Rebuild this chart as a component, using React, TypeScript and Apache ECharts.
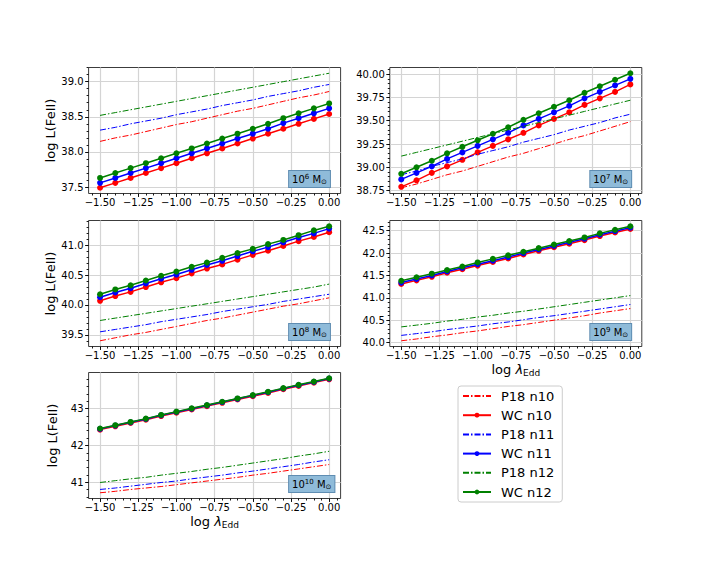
import React, { useEffect, useRef } from 'react';
import * as echarts from 'echarts';

const FONT = 'DejaVu Sans';

// log lambda_Edd sample points
const logLambda = [-1.5, -1.4, -1.3, -1.2, -1.1, -1.0, -0.9, -0.8, -0.7, -0.6, -0.5, -0.4, -0.3, -0.2, -0.1, 0.0];

// Tick labels
const xTicks = [-1.5, -1.25, -1.0, -0.75, -0.5, -0.25, 0.0];
const yTicksM6 = [37.5, 38.0, 38.5, 39.0];
const yTicksM7 = [38.75, 39.0, 39.25, 39.5, 39.75, 40.0];
const yTicksM8 = [39.5, 40.0, 40.5, 41.0];
const yTicksM9 = [40.0, 40.5, 41.0, 41.5, 42.0, 42.5];
const yTicksM10 = [41, 42, 43];

const seriesNames = ['P18 n10', 'WC n10', 'P18 n11', 'WC n11', 'P18 n12', 'WC n12'];
const seriesColors = ['#ff0000', '#ff0000', '#0000ff', '#0000ff', '#008000', '#008000'];
const massExponents = ['6', '7', '8', '9', '10'];

// 10^6 Msun
const m6P18n10 = [38.15, 38.20, 38.24, 38.29, 38.34, 38.39, 38.43, 38.48, 38.53, 38.58, 38.62, 38.67, 38.72, 38.77, 38.81, 38.86];
const m6WCn10 = [37.49, 37.56, 37.63, 37.70, 37.77, 37.84, 37.91, 37.98, 38.05, 38.12, 38.19, 38.26, 38.33, 38.40, 38.47, 38.54];
const m6P18n11 = [38.31, 38.35, 38.40, 38.44, 38.48, 38.53, 38.57, 38.61, 38.66, 38.70, 38.74, 38.79, 38.83, 38.87, 38.92, 38.96];
const m6WCn11 = [37.56, 37.63, 37.70, 37.77, 37.84, 37.91, 37.98, 38.05, 38.12, 38.19, 38.26, 38.33, 38.41, 38.48, 38.55, 38.62];
const m6P18n12 = [38.52, 38.56, 38.60, 38.64, 38.68, 38.72, 38.76, 38.80, 38.84, 38.88, 38.92, 38.96, 39.00, 39.04, 39.08, 39.12];
const m6WCn12 = [37.63, 37.70, 37.77, 37.84, 37.91, 37.98, 38.05, 38.12, 38.19, 38.26, 38.33, 38.40, 38.48, 38.55, 38.62, 38.69];

// 10^7 Msun
const m7P18n10 = [38.78, 38.82, 38.87, 38.92, 38.96, 39.01, 39.06, 39.11, 39.15, 39.20, 39.25, 39.30, 39.34, 39.39, 39.44, 39.49];
const m7WCn10 = [38.79, 38.86, 38.94, 39.01, 39.08, 39.16, 39.23, 39.30, 39.37, 39.45, 39.52, 39.59, 39.67, 39.74, 39.81, 39.89];
const m7P18n11 = [38.92, 38.96, 39.01, 39.05, 39.09, 39.14, 39.18, 39.22, 39.27, 39.31, 39.35, 39.40, 39.44, 39.48, 39.53, 39.57];
const m7WCn11 = [38.87, 38.94, 39.01, 39.09, 39.16, 39.23, 39.30, 39.37, 39.45, 39.52, 39.59, 39.66, 39.74, 39.81, 39.88, 39.95];
const m7P18n12 = [39.12, 39.16, 39.20, 39.24, 39.28, 39.32, 39.36, 39.40, 39.44, 39.48, 39.52, 39.56, 39.60, 39.64, 39.68, 39.72];
const m7WCn12 = [38.93, 39.00, 39.07, 39.15, 39.22, 39.29, 39.36, 39.43, 39.51, 39.58, 39.65, 39.72, 39.80, 39.87, 39.94, 40.01];

// 10^8 Msun
const m8P18n10 = [39.40, 39.45, 39.50, 39.54, 39.59, 39.64, 39.69, 39.74, 39.78, 39.83, 39.88, 39.93, 39.98, 40.02, 40.07, 40.12];
const m8WCn10 = [40.07, 40.15, 40.22, 40.30, 40.38, 40.45, 40.53, 40.61, 40.68, 40.76, 40.84, 40.91, 40.99, 41.07, 41.14, 41.22];
const m8P18n11 = [39.55, 39.59, 39.63, 39.67, 39.72, 39.76, 39.80, 39.84, 39.89, 39.93, 39.97, 40.01, 40.06, 40.10, 40.14, 40.18];
const m8WCn11 = [40.13, 40.21, 40.28, 40.36, 40.44, 40.51, 40.59, 40.67, 40.74, 40.82, 40.90, 40.97, 41.05, 41.13, 41.20, 41.28];
const m8P18n12 = [39.74, 39.78, 39.82, 39.86, 39.90, 39.94, 39.98, 40.02, 40.06, 40.10, 40.14, 40.18, 40.22, 40.26, 40.30, 40.35];
const m8WCn12 = [40.18, 40.26, 40.33, 40.41, 40.49, 40.56, 40.64, 40.71, 40.79, 40.87, 40.94, 41.02, 41.09, 41.17, 41.25, 41.32];

// 10^9 Msun
const m9P18n10 = [40.04, 40.08, 40.13, 40.17, 40.22, 40.26, 40.31, 40.36, 40.40, 40.45, 40.50, 40.55, 40.60, 40.66, 40.71, 40.76];
const m9WCn10 = [41.31, 41.39, 41.47, 41.56, 41.64, 41.72, 41.80, 41.88, 41.97, 42.05, 42.13, 42.21, 42.29, 42.38, 42.46, 42.54];
const m9P18n11 = [40.16, 40.20, 40.24, 40.29, 40.33, 40.37, 40.42, 40.46, 40.51, 40.56, 40.60, 40.65, 40.70, 40.75, 40.80, 40.85];
const m9WCn11 = [41.34, 41.42, 41.50, 41.59, 41.67, 41.75, 41.83, 41.91, 42.00, 42.08, 42.16, 42.24, 42.32, 42.41, 42.49, 42.57];
const m9P18n12 = [40.35, 40.39, 40.43, 40.48, 40.52, 40.57, 40.61, 40.66, 40.70, 40.75, 40.80, 40.85, 40.90, 40.95, 41.00, 41.05];
const m9WCn12 = [41.38, 41.46, 41.54, 41.62, 41.70, 41.79, 41.87, 41.95, 42.03, 42.11, 42.19, 42.27, 42.35, 42.44, 42.52, 42.60];

// 10^10 Msun
const m10P18n10 = [40.71, 40.75, 40.80, 40.84, 40.88, 40.93, 40.98, 41.03, 41.08, 41.13, 41.19, 41.24, 41.30, 41.36, 41.42, 41.48];
const m10WCn10 = [42.43, 42.52, 42.61, 42.70, 42.80, 42.89, 42.98, 43.07, 43.16, 43.25, 43.34, 43.43, 43.53, 43.62, 43.71, 43.80];
const m10P18n11 = [40.80, 40.84, 40.89, 40.94, 40.99, 41.03, 41.09, 41.14, 41.19, 41.25, 41.30, 41.36, 41.42, 41.48, 41.55, 41.61];
const m10WCn11 = [42.45, 42.54, 42.63, 42.72, 42.82, 42.91, 43.00, 43.09, 43.18, 43.27, 43.36, 43.45, 43.55, 43.64, 43.73, 43.82];
const m10P18n12 = [40.99, 41.04, 41.09, 41.13, 41.19, 41.24, 41.29, 41.35, 41.40, 41.46, 41.52, 41.58, 41.64, 41.71, 41.77, 41.84];
const m10WCn12 = [42.46, 42.55, 42.64, 42.73, 42.83, 42.92, 43.01, 43.10, 43.19, 43.28, 43.37, 43.46, 43.56, 43.65, 43.74, 43.83];

const panelSeries = [
  [m6P18n10, m6WCn10, m6P18n11, m6WCn11, m6P18n12, m6WCn12],
  [m7P18n10, m7WCn10, m7P18n11, m7WCn11, m7P18n12, m7WCn12],
  [m8P18n10, m8WCn10, m8P18n11, m8WCn11, m8P18n12, m8WCn12],
  [m9P18n10, m9WCn10, m9P18n11, m9WCn11, m9P18n12, m9WCn12],
  [m10P18n10, m10WCn10, m10P18n11, m10WCn11, m10P18n12, m10WCn12],
];
const panelYTicks = [yTicksM6, yTicksM7, yTicksM8, yTicksM9, yTicksM10];
const panelYDecimals = [1, 2, 1, 1, 0];
const panelYMinorStep = [0.1, 0.05, 0.1, 0.1, 0.2];

// layout
const COL_LEFT = [88.6, 389.8];
const ROW_TOP = [67.5, 220.5, 372.5];
const GW = 252;
const GH = 126;
const panelPos = [[0, 0], [0, 1], [1, 0], [1, 1], [2, 0]];

const XMIN = -1.575;
const XMAX = 0.075;

function minorTicks(min: number, max: number, step: number) {
  const out: number[] = [];
  const a = Math.ceil(min / step - 1e-9);
  const b = Math.floor(max / step + 1e-9);
  for (let k = a; k <= b; k++) out.push(Math.round(k * step * 1e6) / 1e6);
  return out;
}

function fmtNum(v: number, d: number) {
  const s = Math.abs(v).toFixed(d);
  return (v < -1e-9 ? '\u2212' : '') + s;
}

function buildOption() {
  const grids: any[] = [];
  const xAxes: any[] = [];
  const yAxes: any[] = [];
  const series: any[] = [];
  const graphics: any[] = [];

  panelSeries.forEach((arrs, i) => {
    const [r, c] = panelPos[i];
    const left = COL_LEFT[c];
    const top = ROW_TOP[r];
    grids.push({
      left, top, width: GW, height: GH,
      show: true, borderColor: '#262626', borderWidth: 0.9,
      backgroundColor: 'rgba(0,0,0,0)', containLabel: false, outerBoundsMode: 'none',
    });

    // y range from data with 5% margins
    let lo = Infinity, hi = -Infinity;
    arrs.forEach(a => a.forEach(v => { lo = Math.min(lo, v); hi = Math.max(hi, v); }));
    const pad = (hi - lo) * 0.05;
    const ymin = lo - pad;
    const ymax = hi + pad;

    const showXName = i === 3 || i === 4;
    const showYName = c === 0;
    const tickStyle = { color: '#000', width: 0.9 };

    xAxes.push({
      type: 'value', gridIndex: i, min: XMIN, max: XMAX, position: 'bottom',
      axisLine: { show: false, onZero: false },
      axisTick: { show: true, customValues: xTicks, length: 3.5, lineStyle: tickStyle },
      axisLabel: {
        customValues: xTicks, formatter: (v: number) => fmtNum(v, 2),
        fontSize: 10, color: '#000', fontFamily: FONT, margin: 4,
      },
      splitLine: { show: true, lineStyle: { color: '#d4d4d4', width: 1.2 } },
      name: showXName ? '{a|log }{i|\u03bb}{s|Edd}' : '',
      nameLocation: 'middle', nameGap: 13,
      nameTextStyle: {
        color: '#000', fontFamily: FONT, lineHeight: 16,
        rich: {
          a: { fontSize: 13, fontFamily: FONT, color: '#000', lineHeight: 16 },
          i: { fontSize: 13, fontFamily: FONT, fontStyle: 'italic', color: '#000', lineHeight: 16 },
          s: { fontSize: 9, fontFamily: FONT, color: '#000', verticalAlign: 'bottom' },
        },
      },
    });
    xAxes.push({
      type: 'value', gridIndex: i, min: XMIN, max: XMAX, position: 'bottom',
      axisLine: { show: false, onZero: false },
      axisTick: { show: true, customValues: minorTicks(XMIN, XMAX, 0.05), length: 2, lineStyle: tickStyle },
      axisLabel: { show: false },
      splitLine: { show: false },
    });

    const yt = panelYTicks[i];
    const dec = panelYDecimals[i];
    yAxes.push({
      type: 'value', gridIndex: i, min: ymin, max: ymax, position: 'left',
      axisLine: { show: false, onZero: false },
      axisTick: { show: true, customValues: yt, length: 3.5, lineStyle: tickStyle },
      axisLabel: {
        customValues: yt, formatter: (v: number) => fmtNum(v, dec),
        fontSize: 10, color: '#000', fontFamily: FONT, margin: 5,
      },
      splitLine: { show: true, lineStyle: { color: '#d4d4d4', width: 1.2 } },
      name: showYName ? 'log L(FeII)' : '',
      nameLocation: 'middle', nameGap: 30,
      nameTextStyle: { color: '#000', fontFamily: FONT, fontSize: 13 },
    });
    yAxes.push({
      type: 'value', gridIndex: i, min: ymin, max: ymax, position: 'left',
      axisLine: { show: false, onZero: false },
      axisTick: { show: true, customValues: minorTicks(ymin, ymax, panelYMinorStep[i]), length: 2, lineStyle: tickStyle },
      axisLabel: { show: false },
      splitLine: { show: false },
    });

    arrs.forEach((vals, k) => {
      const isWC = k % 2 === 1;
      const color = seriesColors[k];
      series.push({
        type: 'line',
        name: seriesNames[k],
        xAxisIndex: 2 * i,
        yAxisIndex: 2 * i,
        data: logLambda.map((x, j) => [x, vals[j]]),
        symbol: isWC ? 'circle' : 'none',
        symbolSize: 6,
        showSymbol: isWC,
        lineStyle: isWC ? { color, width: 1.5 } : { color, width: 1, type: [6, 2, 1.5, 2] },
        itemStyle: { color },
        emphasis: { disabled: true },
        silent: true,
        z: 2 + k,
      });
    });

    graphics.push({
      type: 'text',
      x: left + 200.5,
      y: top + GH - 6.5,
      z: 100,
      style: {
        text: `{a|10}{b|${massExponents[i]}}{a| M}{c|\u2299}`,
        align: 'left',
        verticalAlign: 'bottom',
        backgroundColor: '#8fbbd9',
        borderColor: '#5f8db2',
        borderWidth: 1,
        padding: [2, 3, 2, 3],
        fill: '#000',
        rich: {
          a: { fontSize: 10, fontFamily: FONT, fill: '#000', color: '#000', lineHeight: 12 },
          b: { fontSize: 7, fontFamily: FONT, fill: '#000', color: '#000', verticalAlign: 'top' },
          c: { fontSize: 7, fontFamily: FONT, fill: '#000', color: '#000', verticalAlign: 'bottom' },
        },
      },
    });
  });

  const legendData = seriesNames.map((n, k) =>
    k % 2 === 0 ? { name: n, itemStyle: { opacity: 0 } } : { name: n }
  );

  return {
    animation: false,
    backgroundColor: '#ffffff',
    grid: grids,
    xAxis: xAxes,
    yAxis: yAxes,
    series,
    graphic: graphics,
    legend: {
      data: legendData,
      orient: 'vertical',
      left: 458,
      top: 386,
      itemWidth: 28,
      itemHeight: 6,
      itemGap: 3.2,
      padding: [2, 8, 2, 4],
      borderColor: '#cccccc',
      borderWidth: 1,
      borderRadius: 3,
      backgroundColor: '#ffffff',
      selectedMode: false,
      textStyle: { fontSize: 13, fontFamily: FONT, color: '#000', lineHeight: 16, padding: [0, 0, 0, 5] },
    },
  };
}

export default function App() {
  const ref = useRef<HTMLDivElement>(null);
  useEffect(() => {
    if (!ref.current) return;
    const chart = echarts.init(ref.current, null, { renderer: 'svg' });
    chart.setOption(buildOption() as any);
    return () => chart.dispose();
  }, []);
  return (
    <div
      ref={ref}
      style={{ position: 'fixed', left: 0, top: 0, width: 713, height: 570, background: '#fff' }}
    />
  );
}
